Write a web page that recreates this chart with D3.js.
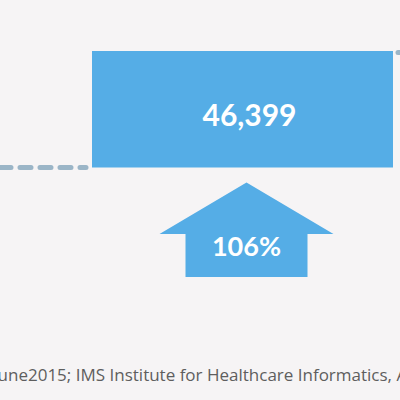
<!DOCTYPE html>
<html>
<head>
<meta charset="utf-8">
<script src="https://cdn.jsdelivr.net/npm/d3@7"></script>
<style>
  html, body { margin: 0; padding: 0; background: #f6f4f5; }
  svg { display: block; }
</style>
</head>
<body>
<div id="chart"></div>
<script>
// step values: level before, the new level, and the growth between them
var steps = ["prev", "curr", "next"];
var levels = [22524, 46399, 46399];
var barLabel = "46,399";
var growthLabel = "106%";
var sourceText = "June2015; IMS Institute for Healthcare Informatics, April 2016";

var width = 400, height = 400;

var svg = d3.select("#chart")
  .append("svg")
    .attr("width", width)
    .attr("height", height);

svg.append("rect")
  .attr("width", width)
  .attr("height", height)
  .attr("fill", "#f6f4f5");

var x = d3.scaleBand()
  .domain(steps)
  .range([-209, 694])
  .padding(0);

var y = d3.scaleLinear()
  .domain([levels[0], levels[1]])
  .range([167.5, 51]);

// dashed level before the bar
svg.append("line")
  .attr("x1", x("prev") + 9)
  .attr("x2", x("prev") + x.bandwidth() - 6)
  .attr("y1", y(levels[0]))
  .attr("y2", y(levels[0]))
  .attr("stroke", "#9bb5c7")
  .attr("stroke-width", 5)
  .attr("stroke-linecap", "round")
  .attr("stroke-dasharray", "11,9");

// dashed level after the bar
svg.append("line")
  .attr("x1", x("next") + 5)
  .attr("x2", x("next") + x.bandwidth())
  .attr("y1", y(levels[2]) + 1.5)
  .attr("y2", y(levels[2]) + 1.5)
  .attr("stroke", "#9bb5c7")
  .attr("stroke-width", 5)
  .attr("stroke-linecap", "round")
  .attr("stroke-dasharray", "11,9");

// the bar
svg.append("rect")
  .attr("x", x("curr"))
  .attr("y", y(levels[1]))
  .attr("width", x.bandwidth())
  .attr("height", y(levels[0]) - y(levels[1]))
  .attr("fill", "#55ade6");

svg.append("text")
  .attr("x", x("curr") + x.bandwidth() / 2 + 7)
  .attr("y", (y(levels[0]) + y(levels[1])) / 2 + 17)
  .attr("text-anchor", "middle")
  .attr("fill", "#fff")
  .style("font-family", "Lato, sans-serif")
  .style("font-weight", 700)
  .style("font-size", "30px")
  .text(barLabel);

// growth arrow
var cx = x("curr") + x.bandwidth() / 2 + 4;
var arrow = svg.append("g")
  .attr("transform", "translate(" + cx + "," + 182.5 + ")");

arrow.append("path")
  .attr("d", "M0,0 L87,51.5 L61,51.5 L61,94.5 L-61,94.5 L-61,51.5 L-87,51.5 Z")
  .attr("fill", "#55ade6");

arrow.append("text")
  .attr("x", 0)
  .attr("y", 73)
  .attr("text-anchor", "middle")
  .attr("fill", "#fff")
  .style("font-family", "Lato, sans-serif")
  .style("font-weight", 700)
  .style("font-size", "27px")
  .text(growthLabel);

svg.append("text")
  .attr("x", -7)
  .attr("y", 381)
  .attr("fill", "#5e5e5e")
  .style("font-family", "'Open Sans', sans-serif")
  .style("font-weight", 400)
  .style("font-size", "17px")
  .style("letter-spacing", "0px")
  .text(sourceText);
</script>
</body>
</html>
